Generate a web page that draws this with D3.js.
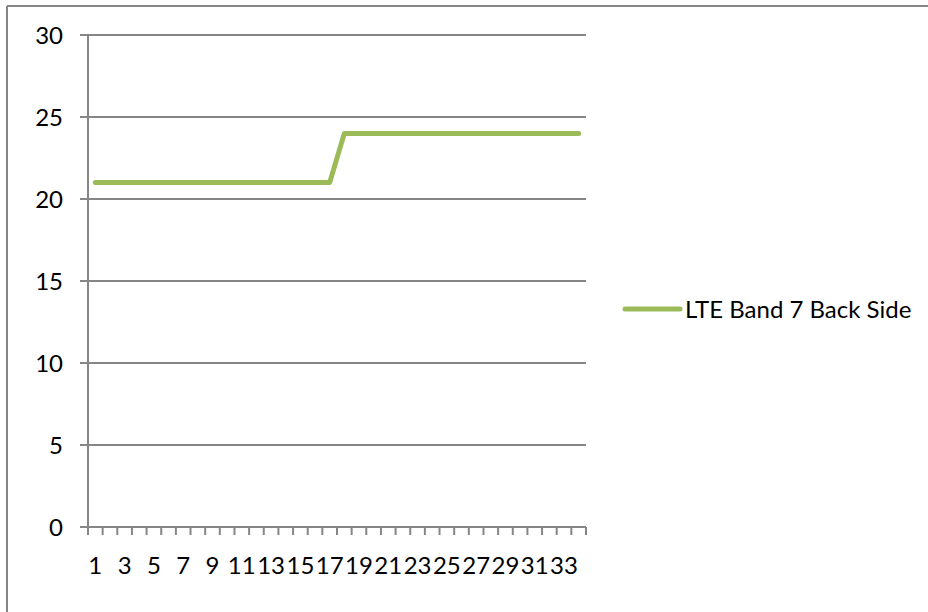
<!DOCTYPE html>
<html>
<head>
<meta charset="utf-8">
<script src="https://cdn.jsdelivr.net/npm/d3@7"></script>
<style>
  body { margin: 0; background: #fff; }
  text { font-family: Lato, "Open Sans", sans-serif; fill: #000; }
</style>
</head>
<body>
<div id="chart"></div>
<script>
// data
var categories = d3.range(1, 35);
var seriesName = "LTE Band 7 Back Side";
var seriesValues = [21, 21, 21, 21, 21, 21, 21, 21, 21, 21, 21, 21, 21, 21, 21, 21, 21,
                    24, 24, 24, 24, 24, 24, 24, 24, 24, 24, 24, 24, 24, 24, 24, 24, 24];
var yTicks = [0, 5, 10, 15, 20, 25, 30];

var svgWidth = 928;
var svgHeight = 612;

var margin = { top: 35, right: 342, bottom: 85, left: 88 };
var width = svgWidth - margin.left - margin.right;
var height = svgHeight - margin.top - margin.bottom;

var gridColor = "#868686";
var lineColor = "#9bbb59";
var fontSize = "24px";

var svg = d3.select("#chart")
  .append("svg")
  .attr("width", svgWidth)
  .attr("height", svgHeight);

// outer frame (only top and left edges show)
svg.append("line")
  .attr("x1", 7).attr("x2", svgWidth).attr("y1", 6).attr("y2", 6)
  .attr("stroke", gridColor).attr("stroke-width", 2);
svg.append("line")
  .attr("x1", 7).attr("x2", 7).attr("y1", 6).attr("y2", svgHeight)
  .attr("stroke", gridColor).attr("stroke-width", 2);

var chartGroup = svg.append("g")
  .attr("transform", `translate(${margin.left}, ${margin.top})`);

// scales
var xBandScale = d3.scaleBand()
  .domain(categories)
  .range([0, width])
  .padding(0);

var yLinearScale = d3.scaleLinear()
  .domain([0, 30])
  .range([height, 0]);

// gridlines (start 8px left of the axis, like the tick marks)
chartGroup.append("g")
  .selectAll("line")
  .data(yTicks)
  .enter()
  .append("line")
  .attr("x1", -8)
  .attr("x2", width)
  .attr("y1", d => yLinearScale(d))
  .attr("y2", d => yLinearScale(d))
  .attr("stroke", gridColor)
  .attr("stroke-width", 2);

// y axis labels
var leftAxis = d3.axisLeft(yLinearScale)
  .tickValues(yTicks)
  .tickSize(0)
  .tickPadding(25);
var yAxisG = chartGroup.append("g").call(leftAxis);
yAxisG.select(".domain").remove();
yAxisG.selectAll("text")
  .style("font-size", fontSize)
  .style("font-family", "Lato, sans-serif")
  .attr("dy", "0.36em");

// y axis line
chartGroup.append("line")
  .attr("x1", 0).attr("x2", 0)
  .attr("y1", 0).attr("y2", height)
  .attr("stroke", gridColor).attr("stroke-width", 2);

// x axis: ticks on category boundaries
var boundaries = categories.map(c => xBandScale(c)).concat([width]);
chartGroup.append("g")
  .selectAll("line")
  .data(boundaries)
  .enter()
  .append("line")
  .attr("x1", d => d)
  .attr("x2", d => d)
  .attr("y1", height)
  .attr("y2", height + 8)
  .attr("stroke", gridColor)
  .attr("stroke-width", 2);

// x axis labels, every other category
var bottomAxis = d3.axisBottom(xBandScale)
  .tickValues(categories.filter((c, i) => i % 2 === 0))
  .tickSize(0)
  .tickPadding(30);
var xAxisG = chartGroup.append("g")
  .attr("transform", `translate(0, ${height})`)
  .call(bottomAxis);
xAxisG.select(".domain").remove();
xAxisG.selectAll("text")
  .style("font-size", fontSize)
  .style("font-family", "Lato, sans-serif");

// the series line
var line = d3.line()
  .x((d, i) => xBandScale(categories[i]) + xBandScale.bandwidth() / 2)
  .y(d => yLinearScale(d));

chartGroup.append("path")
  .datum(seriesValues)
  .attr("d", line)
  .attr("fill", "none")
  .attr("stroke", lineColor)
  .attr("stroke-width", 5)
  .attr("stroke-linecap", "round")
  .attr("stroke-linejoin", "round");

// legend
var legend = svg.append("g")
  .attr("transform", "translate(625, 309)");
legend.append("line")
  .attr("x1", 0).attr("x2", 55)
  .attr("y1", 0).attr("y2", 0)
  .attr("stroke", lineColor)
  .attr("stroke-width", 5)
  .attr("stroke-linecap", "round");
legend.append("text")
  .attr("x", 60)
  .attr("y", 0)
  .attr("dy", "0.36em")
  .style("font-size", fontSize)
  .text(seriesName);
</script>
</body>
</html>
